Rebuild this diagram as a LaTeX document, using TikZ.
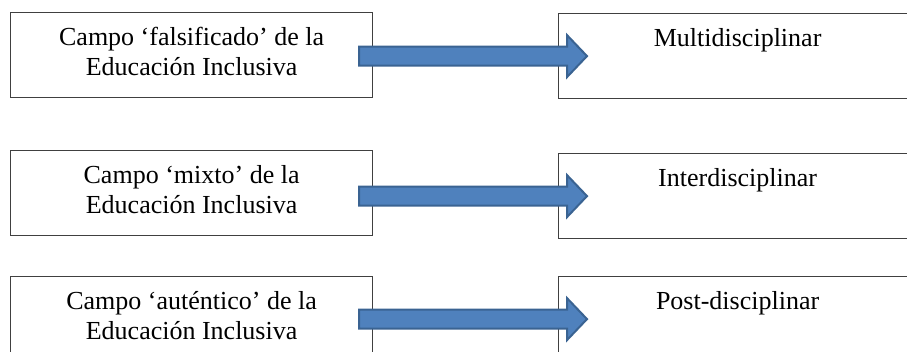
\documentclass[tikz,border=0pt]{standalone}
\usepackage{fontspec}
\setmainfont{Liberation Serif}
\usetikzlibrary{calc}
\definecolor{arrowfill}{HTML}{4F81BD}
\definecolor{arrowline}{HTML}{3A6392}
\definecolor{boxline}{HTML}{404040}
\begin{document}
\begin{tikzpicture}[x=1pt, y=-1pt, font=\fontsize{26}{30}\selectfont,
    lb/.style={draw=boxline, line width=1.2pt, anchor=north west, inner sep=0pt,
               align=center, minimum width=362pt, text height=63pt, text depth=22pt},
    rb/.style={draw=boxline, line width=1.2pt, anchor=north west, inner sep=0pt,
               align=center, minimum width=358pt, text height=33pt, text depth=52pt},
    fat/.style={fill=arrowfill, draw=arrowline, line width=2pt, line join=miter}
]
    % Picture frame (907 x 351)
    \clip (0,0) rectangle (907,351);

    % Fields of Inclusive Education (left column)
    \node[lb] (fal) at (10,12)  {Campo ‘falsificado’ de la\\Educación Inclusiva};
    \node[lb] (mix) at (10,150) {Campo ‘mixto’ de la\\Educación Inclusiva};
    \node[lb] (aut) at (10,276) {Campo ‘auténtico’ de la\\Educación Inclusiva};

    % Disciplinary modes (right column)
    \node[rb] (mul)   at (558,13)  {Multidisciplinar};
    \node[rb] (inter) at (558,153) {Interdisciplinar};
    \node[rb] (post)  at (558,276) {Post-disciplinar};

    % Block arrows
    \foreach \a/\b in {fal/mul, mix/inter, aut/post}
        \draw[fat] ($(\a.east |- \b.west)+(-14,-9.5)$) -- ($(\b.west)+(9,-9.5)$)
            -- ($(\b.west)+(9,-21)$) -- ($(\b.west)+(29,0)$) -- ($(\b.west)+(9,21)$)
            -- ($(\b.west)+(9,9.5)$) -- ($(\a.east |- \b.west)+(-14,9.5)$) -- cycle;
\end{tikzpicture}
\end{document}
